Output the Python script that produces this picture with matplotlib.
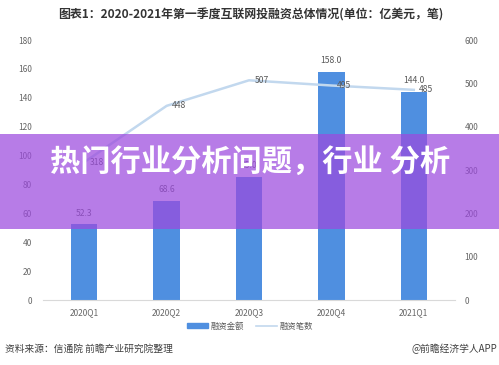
import matplotlib
matplotlib.use("Agg")
import matplotlib.pyplot as plt
from matplotlib.patches import Rectangle
from matplotlib.lines import Line2D

plt.rcParams['font.family'] = ['Noto Sans CJK SC', 'DejaVu Sans']

categories = ["2020Q1", "2020Q2", "2020Q3", "2020Q4", "2021Q1"]
amounts = [52.3, 68.6, 85.0, 158.0, 144.0]
deals = [318, 448, 507, 495, 485]
left_ticks = [0, 20, 40, 60, 80, 100, 120, 140, 160, 180]
right_ticks = [0, 100, 200, 300, 400, 500, 600]

title = "图表1：2020-2021年第一季度互联网投融资总体情况(单位：亿美元，笔)"
banner_text = "热门行业分析问题，行业 分析"
source_text = "资料来源：信通院 前瞻产业研究院整理"
brand_text = "@前瞻经济学人APP"
legend_labels = ["融资金额", "融资笔数"]

bar_color = "#4f8fe0"
line_color = "#c2d8ee"
tick_color = "#666666"

W, H = 499, 365
fig = plt.figure(figsize=(W / 100, H / 100), dpi=100)
ax = fig.add_axes([43 / W, 1 - 300 / H, (455 - 43) / W, 260 / H])
ax2 = ax.twinx()

x = list(range(len(categories)))
ax.bar(x, amounts, width=0.32, color=bar_color, zorder=2)
ax.set_xlim(-0.5, len(categories) - 0.5)
ax.set_ylim(0, 180)
ax.set_yticks(left_ticks)
ax.set_xticks(x)
ax.set_xticklabels(categories)
for v, a in zip(x, amounts):
    ax.annotate(f"{a:.1f}", (v, a), xytext=(0, 5), textcoords="offset points",
                ha="center", va="bottom", fontsize=6.2, color="#595959")

ax2.plot(x, deals, color=line_color, lw=1.8, zorder=3)
ax2.set_ylim(0, 600)
ax2.set_yticks(right_ticks)
for v, d in zip(x, deals):
    ax2.annotate(f"{d}", (v, d), xytext=(4, 0), textcoords="offset points",
                 ha="left", va="center", fontsize=6.2, color="#595959")

for a in (ax, ax2):
    for s in ["top", "left", "right", "bottom"]:
        a.spines[s].set_visible(False)
    a.tick_params(length=0, labelsize=6, labelcolor=tick_color)
ax.spines["bottom"].set_visible(True)
ax.spines["bottom"].set_color("#d9d9d9")
ax.spines["bottom"].set_linewidth(0.8)
ax.tick_params(axis="y", pad=8)
ax.tick_params(axis="x", pad=6)
ax2.tick_params(axis="y", pad=7)

fig.text(251 / W, 1 - 15 / H, title, ha="center", va="center",
         fontsize=8.6, fontweight="bold", color="#333333")

handles = [Rectangle((0, 0), 1, 1, color=bar_color),
           Line2D([0], [0], color=line_color, lw=1.2)]
fig.legend(handles, legend_labels, loc="center", bbox_to_anchor=(250 / W, 1 - 326 / H),
           ncol=2, frameon=False, fontsize=6, handlelength=2.5, handleheight=0.5,
           columnspacing=1.5, handletextpad=0.3, labelcolor="#595959")

fig.text(5 / W, 1 - 349 / H, source_text, ha="left", va="center",
         fontsize=7.0, color="#404040")
fig.text(497 / W, 1 - 349 / H, brand_text, ha="right", va="center",
         fontsize=7.0, color="#404040")

fig.patches.append(Rectangle((0, 1 - 229 / H), 1, 95 / H, transform=fig.transFigure,
                             facecolor=(0.61, 0.29, 0.87), alpha=0.72, zorder=10))
fig.text(250 / W, 1 - 162 / H, banner_text, ha="center", va="center",
         fontsize=21.8, fontweight="bold", color="white", zorder=11)

fig.savefig("out.png", dpi=100)
